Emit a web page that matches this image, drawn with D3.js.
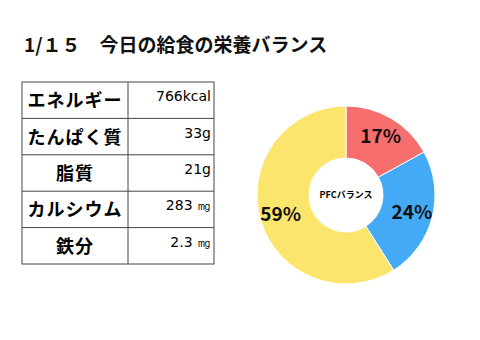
<!DOCTYPE html>
<html>
<head>
<meta charset="utf-8">
<script src="https://cdn.jsdelivr.net/npm/d3@7"></script>
<style>
  body { margin: 0; background: #fff; }
  text { font-family: "Noto Sans CJK JP", sans-serif; }
</style>
</head>
<body>
<svg id="mainsvg" width="480" height="340"></svg>
<script>
const TITLE = "1/１５　今日の給食の栄養バランス"
const nutrients = ["エネルギー", "たんぱく質", "脂質", "カルシウム", "鉄分"]
const amounts = ["766kcal", "33g", "21g", "283 ㎎", "2.3 ㎎"]
const pfcNames = ["P", "F", "C"]
const pfcValues = [17, 24, 59]
const pfcColors = ["#F76E6E", "#45AAF6", "#FCE56D"]

let svg = d3.select("#mainsvg")

svg.append("text")
  .attr("x", 24).attr("y", 52)
  .attr("font-size", 19).attr("font-weight", 700)
  .attr("fill", "#111")
  .text(TITLE)

// table
const tbl = svg.append("g").attr("id", "table")
const colW = { name: 106, value: 86 }
const y = d3.scaleBand().domain(nutrients).range([82, 264])

tbl.append("rect")
  .attr("x", 22).attr("y", 82).attr("width", 192).attr("height", 182)
  .attr("fill", "none").attr("stroke", "#444").attr("stroke-width", 1)

tbl.selectAll("line.row")
  .data(nutrients.slice(1))
  .enter().append("line")
  .attr("class", "row")
  .attr("x1", 22).attr("x2", 214)
  .attr("y1", d => y(d)).attr("y2", d => y(d))
  .attr("stroke", "#444")

tbl.append("line")
  .attr("x1", 22 + colW.name).attr("x2", 22 + colW.name)
  .attr("y1", 82).attr("y2", 264)
  .attr("stroke", "#444")

tbl.selectAll("text.name")
  .data(nutrients)
  .enter().append("text")
  .attr("class", "name")
  .attr("x", 22 + colW.name / 2)
  .attr("y", d => y(d) + y.bandwidth() / 2 + 7)
  .attr("text-anchor", "middle")
  .attr("font-size", 18).attr("font-weight", 700)
  .attr("letter-spacing", 1)
  .text(d => d)

tbl.selectAll("text.val")
  .data(amounts)
  .enter().append("text")
  .attr("class", "val")
  .attr("x", 211)
  .attr("y", (d, i) => y(nutrients[i]) + y.bandwidth() / 2 + 1)
  .attr("text-anchor", "end")
  .style("font-family", "'DejaVu Sans', sans-serif")
  .attr("font-size", 14)
  .text(d => d)

// donut
const cx = 346, cy = 195
const pie = d3.pie().sort(null).value(d => d)
const arc = d3.arc().innerRadius(37).outerRadius(89)
const labelArc = d3.arc().innerRadius(68).outerRadius(68)
const donut = svg.append("g").attr("transform", `translate(${cx}, ${cy})`)

donut.selectAll("path")
  .data(pie(pfcValues))
  .enter().append("path")
  .attr("d", arc)
  .attr("fill", (d, i) => pfcColors[i])
  .attr("stroke", "#fff").attr("stroke-width", 1)

donut.selectAll("text.pct")
  .data(pie(pfcValues))
  .enter().append("text")
  .attr("class", "pct")
  .attr("transform", d => `translate(${labelArc.centroid(d)})`)
  .attr("text-anchor", "middle")
  .attr("dy", "0.35em")
  .attr("font-size", 19).attr("font-weight", 700)
  .attr("fill", "#111")
  .text(d => d.data + "%")

donut.append("text")
  .attr("text-anchor", "middle").attr("dy", "0.35em")
  .attr("font-size", 9).attr("font-weight", 700)
  .text("PFCバランス")
</script>
</body>
</html>
